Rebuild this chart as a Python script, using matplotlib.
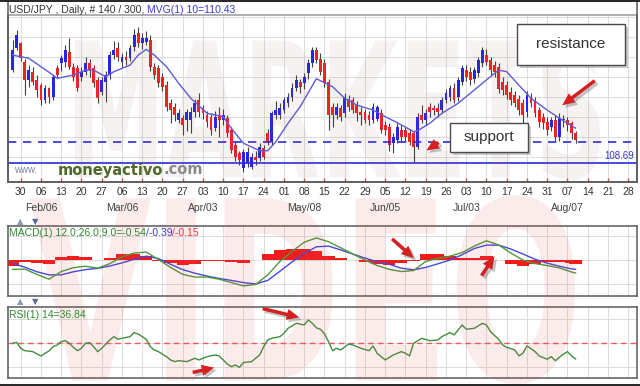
"""USD/JPY daily candles with MACD and RSI panels."""

import matplotlib

matplotlib.use("Agg")
import matplotlib.pyplot as plt
import numpy as np
from matplotlib.font_manager import FontProperties
from matplotlib.patches import FancyArrowPatch, PathPatch, Rectangle
from matplotlib.textpath import TextPath
from matplotlib.transforms import Affine2D, blended_transform_factory

W, H = 640, 386

# session index 0 = Thu 26 Jan 2006, 140 sessions
opens = [
    113.34, 114.42, 114.67, 113.75, 112.84, 113.25, 112.84, 112.59, 111.84, 112.42,
    112.00, 113.42, 113.67, 113.75, 114.25, 113.50, 113.42, 113.00, 113.25, 113.67,
    113.42, 112.84, 112.25, 112.75, 113.10, 114.08, 114.42, 113.75, 114.00, 113.92,
    114.50, 115.17, 114.67, 114.75, 114.84, 113.50, 113.42, 113.00, 112.59, 111.67,
    111.50, 110.84, 110.92, 110.84, 110.84, 111.25, 111.84, 111.42, 111.08, 111.00,
    110.42, 111.08, 110.84, 110.92, 110.34, 109.59, 109.17, 108.42, 108.67, 108.50,
    109.00, 108.92, 109.42, 110.17, 109.75, 111.10, 111.10, 111.34, 111.67, 112.00,
    112.42, 112.75, 112.67, 113.17, 113.67, 114.34, 113.90, 113.67, 112.75, 111.50,
    111.08, 111.42, 111.17, 111.90, 111.84, 111.60, 111.25, 111.25, 111.08, 110.84,
    110.90, 111.17, 110.60, 110.50, 109.67, 109.84, 110.34, 110.34, 110.17, 110.17,
    109.50, 111.08, 110.84, 111.50, 111.42, 111.42, 111.34, 111.84, 112.00, 112.42,
    112.00, 112.75, 113.34, 113.25, 112.90, 113.17, 113.67, 114.10, 113.84, 113.60,
    113.50, 112.75, 112.59, 112.25, 112.10, 111.90, 111.67, 111.25, 112.00, 111.84,
    111.34, 111.00, 110.75, 110.50, 110.84, 110.00, 110.84, 110.84, 110.67, 110.17,
]
highs = [
    114.84, 115.34, 114.75, 113.90, 113.60, 113.50, 113.10, 112.70, 112.60, 112.50,
    113.10, 113.60, 114.10, 114.60, 114.92, 113.70, 113.60, 113.50, 114.00, 113.90,
    113.60, 113.00, 113.00, 113.30, 114.30, 114.80, 114.75, 114.20, 114.30, 114.60,
    115.40, 115.47, 115.20, 115.30, 115.10, 113.70, 113.60, 113.20, 112.80, 111.90,
    111.70, 111.40, 111.10, 111.40, 111.50, 111.90, 112.20, 111.60, 111.30, 111.20,
    111.30, 111.50, 111.40, 111.10, 110.50, 109.80, 109.30, 109.40, 109.50, 109.20,
    109.30, 109.70, 109.60, 110.40, 111.30, 111.80, 111.70, 112.00, 112.20, 112.70,
    113.10, 112.90, 113.20, 113.90, 114.50, 114.50, 114.20, 113.90, 112.90, 111.70,
    111.70, 111.60, 112.20, 112.10, 112.00, 111.80, 111.50, 111.40, 111.30, 111.70,
    111.60, 111.40, 110.80, 110.70, 110.20, 110.70, 110.60, 110.50, 110.40, 110.30,
    111.20, 111.60, 111.40, 111.70, 111.60, 111.70, 112.00, 112.40, 112.60, 112.70,
    113.00, 113.60, 113.60, 113.50, 113.50, 114.00, 114.50, 114.40, 114.00, 113.80,
    113.70, 113.00, 112.80, 112.50, 112.30, 112.10, 111.90, 112.30, 112.20, 112.00,
    111.50, 111.20, 111.00, 111.00, 111.10, 111.20, 111.10, 111.00, 110.80, 110.30,
]
lows = [
    113.25, 114.34, 113.80, 112.10, 112.50, 112.60, 112.00, 111.60, 111.70, 111.70,
    111.85, 113.00, 113.30, 113.50, 113.40, 112.80, 112.30, 112.80, 113.10, 113.00,
    112.50, 111.70, 112.10, 111.75, 112.90, 113.90, 113.80, 113.50, 113.60, 113.80,
    114.30, 114.50, 114.40, 114.60, 113.30, 112.90, 112.50, 112.30, 111.30, 110.67,
    110.80, 110.70, 110.10, 110.30, 110.20, 111.00, 111.00, 110.90, 110.50, 110.10,
    110.30, 110.00, 110.60, 110.00, 109.20, 108.80, 108.60, 108.25, 108.50, 108.40,
    108.60, 108.80, 108.90, 109.60, 109.60, 110.90, 110.90, 111.20, 111.50, 111.80,
    112.30, 112.20, 112.40, 112.90, 113.50, 113.70, 113.10, 112.50, 110.35, 110.50,
    110.90, 110.80, 111.00, 111.30, 111.20, 110.80, 110.60, 110.70, 110.60, 110.70,
    110.80, 110.20, 110.10, 109.30, 109.20, 109.70, 109.80, 109.80, 109.60, 108.75,
    109.40, 110.70, 110.60, 111.00, 111.10, 111.00, 111.20, 111.70, 111.80, 111.70,
    111.80, 112.60, 112.80, 112.60, 112.70, 113.00, 113.50, 113.60, 113.10, 113.00,
    112.20, 112.10, 111.90, 111.60, 111.50, 111.10, 110.60, 111.00, 111.50, 111.00,
    110.50, 110.40, 110.10, 110.30, 109.80, 109.80, 110.50, 110.30, 109.90, 109.70,
]
closes = [
    114.34, 115.08, 113.92, 112.84, 113.33, 112.75, 112.34, 111.84, 112.42, 112.00,
    113.00, 113.10, 113.92, 114.34, 113.50, 113.00, 112.42, 113.25, 113.67, 113.34,
    112.67, 111.92, 112.84, 113.10, 114.08, 114.34, 114.00, 114.00, 113.84, 114.42,
    115.08, 114.67, 114.92, 114.92, 113.50, 113.08, 112.67, 112.50, 111.50, 111.34,
    111.08, 111.17, 110.59, 111.25, 111.25, 111.67, 111.25, 111.17, 110.75, 110.34,
    111.00, 110.84, 111.08, 110.17, 109.34, 109.00, 108.84, 109.25, 109.25, 109.00,
    108.84, 109.50, 109.00, 109.75, 111.17, 111.34, 111.42, 111.84, 112.00, 112.42,
    112.84, 112.50, 113.00, 113.67, 114.34, 113.84, 113.25, 112.67, 111.08, 111.10,
    111.50, 111.00, 112.00, 111.50, 111.34, 111.17, 111.08, 110.84, 110.84, 111.50,
    111.50, 110.34, 110.34, 109.60, 110.00, 110.50, 110.00, 110.00, 109.75, 109.50,
    111.00, 110.84, 111.17, 111.25, 111.34, 111.25, 111.84, 112.17, 112.42, 111.84,
    112.84, 113.42, 113.00, 112.84, 113.34, 113.84, 114.34, 113.75, 113.34, 113.25,
    112.40, 112.34, 112.10, 111.84, 111.67, 111.34, 111.08, 112.10, 111.67, 111.17,
    110.75, 110.67, 110.34, 110.84, 110.00, 110.92, 110.90, 110.59, 110.17, 109.84,
]

# 10-day moving average
ma_days = [0, 4, 10, 11, 15, 18, 20, 23, 25, 29, 31, 33, 35, 38, 41, 44, 48, 52, 54, 57,
           61, 63, 65, 68, 71, 75, 79, 82, 85, 89, 92, 95, 99, 100, 103, 106, 110, 113,
           117, 120, 122, 125, 128, 132, 135, 139]
ma_vals = [114.08, 113.92, 113.08, 112.92, 113.08, 113.33, 113.33, 113.00, 113.25, 113.58,
           114.08, 114.37, 114.08, 113.50, 112.67, 111.92, 111.17, 111.00, 110.42, 109.67,
           109.30, 109.30, 109.75, 110.67, 111.50, 112.90, 112.50, 111.92, 111.58, 111.33,
           111.00, 110.70, 110.25, 110.30, 110.67, 111.17, 111.67, 112.17, 112.84, 113.33,
           113.25, 112.58, 111.92, 111.33, 110.92, 110.43]

macd_days = [0, 3, 6, 9, 12, 15, 18, 21, 24, 27, 30, 33, 36, 39, 42, 45, 48, 51, 54, 57,
             60, 63, 66, 69, 72, 75, 78, 81, 84, 87, 90, 93, 96, 99, 102, 105, 108, 111,
             114, 117, 120, 123, 126, 129, 132, 135, 138, 139]
macd_line = [-0.39, -0.38, -0.60, -0.80, -0.48, -0.32, -0.26, -0.34, -0.15, 0.13,
             0.29, 0.33, 0.02, -0.31, -0.60, -0.71, -0.71, -0.80, -0.94, -1.08,
             -1.02, -0.62, -0.06, 0.36, 0.74, 0.92, 0.76, 0.51, 0.25, 0.00,
             -0.23, -0.39, -0.48, -0.44, -0.06, 0.07, 0.16, 0.31, 0.58, 0.80,
             0.63, 0.29, 0.00, -0.15, -0.23, -0.33, -0.50, -0.54]
signal_line = [-0.14, -0.30, -0.49, -0.62, -0.62, -0.49, -0.40, -0.35, -0.25, -0.12,
               0.03, 0.16, 0.06, -0.18, -0.40, -0.55, -0.67, -0.77, -0.85, -0.94,
               -1.00, -0.85, -0.47, -0.08, 0.27, 0.55, 0.58, 0.42, 0.25, 0.08,
               -0.07, -0.18, -0.34, -0.41, -0.31, -0.16, 0.00, 0.22, 0.48, 0.62,
               0.62, 0.46, 0.25, 0.03, -0.13, -0.26, -0.37, -0.39]

rsi_days = [0, 1, 2, 3, 5, 6, 7, 8, 9, 10, 11, 12, 13, 14, 15, 16, 17, 18, 19, 20,
            21, 22, 24, 25, 26, 27, 29, 30, 31, 32, 33, 34, 35, 36, 38, 39, 40, 41, 43, 44,
            45, 46, 47, 48, 50, 51, 52, 53, 54, 55, 56, 57, 59, 60, 61, 62, 63, 64, 66, 67,
            68, 69, 70, 72, 73, 74, 75, 76, 77, 78, 79, 80, 81, 83, 84, 86, 88, 89, 90, 92,
            94, 96, 97, 98, 99, 101, 103, 105, 106, 108, 109, 110, 111, 112, 114, 116, 117,
            118, 120, 121, 122, 124, 125, 126, 127, 129, 130, 132, 133, 134, 136, 137, 138,
            139]
rsi_vals = [50, 50.8, 45.8, 43.8, 43.0, 41.0, 39.4, 41.6, 43.6, 47.2,
            48.6, 51.4, 52.2, 50, 46.6, 43.8, 45.8, 50, 50.6, 47.2,
            43, 45.8, 52.8, 55.6, 53.4, 54.2, 55.6, 59, 57.8, 55.6,
            53.4, 47.2, 44.4, 43, 38.8, 36, 34.6, 35.4, 34.6, 36,
            37.4, 36, 37.4, 38.8, 40.2, 39.4, 36, 32.6, 30.4, 31.8,
            29.8, 33.8, 34.6, 37.4, 40.2, 47.2, 52.8, 54.2, 55.6, 58.4,
            62.6, 64.6, 66.8, 65.4, 69.6, 66.8, 63.0, 61.8, 58, 51.4,
            43.8, 45.8, 44.4, 49.4, 48.6, 45.8, 43.8, 47.8, 41.6, 36,
            40.2, 43, 41.6, 39.4, 50, 54.2, 52.2, 52.8, 55.6, 59,
            57, 61.2, 65.4, 61.8, 62.6, 66.8, 65.4, 59.8, 53.4, 48.6,
            46.6, 44.4, 39.4, 41.6, 47.8, 43, 39.4, 36.6, 38.8, 35.4,
            41, 43, 39.4, 36.84]

week_labels = ["30", "06", "13", "20", "27", "06", "13", "20", "27", "03", "10", "17",
               "24", "01", "08", "15", "22", "29", "05", "12", "19", "26", "03", "10",
               "17", "24", "31", "07", "14", "21", "28"]
month_labels = ["Feb/06", "Mar/06", "Apr/03", "May/08", "Jun/05", "Jul/03", "Aug/07"]
month_weeks = [1, 5, 9, 14, 18, 22, 27]

support_level = 109.75
low_level = 108.69

plt.rcParams["font.family"] = ["Liberation Sans", "DejaVu Sans"]

fig = plt.figure(figsize=(6.4, 3.86), dpi=100)
fig.patch.set_facecolor("white")


def fx(x):
    return x / W


def fy(y):
    return 1 - y / H


def box(x0, y0, x1, y1):
    return [x0 / W, 1 - y1 / H, (x1 - x0) / W, (y1 - y0) / H]


week_pos = [2 + 5 * k for k in range(len(week_labels))]
XLIM = (-1.14, 154.17)
GRID = "#dcdcdc"
FRAME = "#5a5a5a"


def style_panel(ax, labels=False):
    ax.set_xlim(*XLIM)
    ax.set_xticks(week_pos)
    if labels:
        ax.set_xticklabels(week_labels)
        ax.tick_params(axis="x", direction="in", length=3, width=1, color="#e04848",
                       labelsize=7.5, labelcolor="#333333", pad=3.5)
    else:
        ax.tick_params(axis="x", bottom=False, labelbottom=False)
    ax.tick_params(axis="y", left=False, labelleft=False)
    ax.grid(True, color=GRID, lw=0.7)
    ax.set_axisbelow(True)
    for s in ax.spines.values():
        s.set_color(FRAME)
        s.set_linewidth(1.1)


# ---- price panel
ax = fig.add_axes(box(8, 15, 637, 182))
style_panel(ax, labels=True)
ax.set_ylim(107.735, 116.085)
ax.set_yticks(np.arange(109, 117))
ax.spines["top"].set_color("#9a9a9a")

days = np.arange(len(closes))
o = np.array(opens)
c = np.array(closes)
body_col = np.where(c >= o, "#2626e0", "#f02222")
ax.vlines(days, lows, highs, color="#404040", lw=0.8, zorder=2)
ax.bar(days, np.maximum(np.abs(c - o), 0.05), bottom=np.minimum(o, c), width=0.7,
       color=body_col, lw=0, zorder=3)
ax.plot(ma_days, ma_vals, color="#5c5cd8", lw=1.0, zorder=4)
ax.axhline(support_level, color="#2b2bd8", lw=1.2, ls=(0, (5, 4)), zorder=4)
ax.axhline(low_level, color="#2b2bd8", lw=1.2, zorder=4)
ax.annotate(f"{low_level:.2f}", xy=(1, low_level),
            xycoords=blended_transform_factory(ax.transAxes, ax.transData),
            xytext=(-2, 1.5), textcoords="offset points", ha="right", va="bottom",
            fontsize=7, color="#3a3ad0")

for k, lab in zip(month_weeks, month_labels):
    x_pix = 8 + (week_pos[k] - XLIM[0]) / (XLIM[1] - XLIM[0]) * 629
    fig.text(fx(x_pix), fy(208), lab, ha="center", va="center", fontsize=7.5, color="#404040")

# outer frame of the price panel (title sits inside it)
fig.add_artist(Rectangle((fx(8), fy(182)), 629 / W, 181 / H, transform=fig.transFigure,
                         fill=False, ec=FRAME, lw=1.1, zorder=2))

# ---- MACD panel
axm = fig.add_axes(box(8, 226, 637, 296))
style_panel(axm)
axm.set_ylim(-1.5, 1.4167)
axm.set_yticks([-1, 0, 1])
hist = np.array(macd_line) - np.array(signal_line)
axm.bar(macd_days, hist, width=3.0, color="#f01c1c", lw=0, zorder=2)
axm.plot(macd_days, signal_line, color="#4646dc", lw=1.0, zorder=3)
axm.plot(macd_days, macd_line, color="#4c9a3c", lw=1.0, zorder=3)

# ---- RSI panel
axr = fig.add_axes(box(8, 307, 637, 378))
style_panel(axr)
axr.set_ylim(20.84, 80.5)
axr.set_yticks([30, 50, 70])
axr.axhline(50, color="#f05a5a", lw=1.0, ls=(0, (4, 3)), zorder=2)
axr.plot(rsi_days, rsi_vals, color="#3f8f3f", lw=1.0, zorder=3)

# ---- texts made of several coloured parts
renderer = fig.canvas.get_renderer()


def chain(x, y, parts, size=7.5, gap=0.0):
    for s, col in parts:
        t = fig.text(fx(x), fy(y), s, color=col, fontsize=size, ha="left", va="center")
        x += t.get_window_extent(renderer=renderer).width + gap


chain(9, 10, [("USD/JPY , Daily, # 140 / 300,", "#333333"),
              ("MVG(1) 10=110.43", "#3b3bd0")], gap=3)
chain(9, 233, [("MACD(1) 12.0;26.0;9.0=-0.54", "#2e8b2e"),
               ("/-0.39", "#3a3ad0"), ("/-0.15", "#ee3b3b")])
chain(9, 315, [("RSI(1) 14=36.84", "#2e8b2e")])

for yy in (221.7, 301.7):
    fig.text(fx(20), fy(yy), "\u25b2", ha="center", va="center", fontsize=6,
             color="#8797bf", family="DejaVu Sans")
    fig.text(fx(35), fy(yy), "\u25bc", ha="center", va="center", fontsize=6,
             color="#5a6a9e", family="DejaVu Sans")


# ---- watermarks
def watermark(text, x0, y0, x1, y1, color, alpha):
    tp = TextPath((0, 0), text, size=100,
                  prop=FontProperties(family="DejaVu Sans", weight="bold"))
    ext = tp.get_extents()
    tr = (Affine2D().translate(-ext.x0, -ext.y0)
          .scale((x1 - x0) / W / ext.width, (y1 - y0) / H / ext.height)
          .translate(fx(x0), fy(y1)) + fig.transFigure)
    fig.add_artist(PathPatch(tp, transform=tr, facecolor=color, edgecolor="none",
                             alpha=alpha, zorder=1))


watermark("MARKETS", 75, 38, 600, 180, "#905a5a", 0.08)
watermark("VIDEO", 30, 195, 575, 384, "#dc4c4c", 0.11)

chain(14, 170, [("www.", "#7f86a8")], size=7)
t = fig.text(fx(58), fy(170), "moneyactivo", color="#4f6a28", fontsize=10.5,
             fontweight="bold", family="DejaVu Sans", ha="left", va="center", zorder=4)
fig.text(fx(58) + t.get_window_extent(renderer=renderer).width / W, fy(170), ".com",
         color="#8a8a8a", fontsize=10.5, fontweight="bold", family="DejaVu Sans",
         ha="left", va="center", zorder=4)


# ---- annotation boxes and arrows
def label_box(x0, y0, x1, y1, text):
    w, h = (x1 - x0) / W, (y1 - y0) / H
    fig.add_artist(Rectangle((fx(x0 + 3), fy(y1 + 3)), w, h, transform=fig.transFigure,
                             facecolor="#8c8c8c", edgecolor="none", alpha=0.45, zorder=7))
    fig.add_artist(Rectangle((fx(x0), fy(y1)), w, h, transform=fig.transFigure,
                             facecolor="white", edgecolor="#4a4a4a", lw=1.0, zorder=8))
    fig.text(fx((x0 + x1) / 2), fy((y0 + y1) / 2), text, ha="center", va="center",
             fontsize=11, color="#333333", zorder=9)


def arrow(x0, y0, x1, y1):
    style = "simple,head_width=0.8,head_length=0.9,tail_width=0.25"
    for d, col, a, z in ((2.5, "#7a7a7a", 0.45, 5), (0, "#d42020", 1.0, 6)):
        fig.add_artist(FancyArrowPatch((fx(x0 + d), fy(y0 + d)), (fx(x1 + d), fy(y1 + d)),
                                       transform=fig.transFigure, arrowstyle=style,
                                       mutation_scale=10, color=col, alpha=a, lw=0,
                                       zorder=z))


label_box(517, 24, 625, 65, "resistance")
label_box(450, 123, 528, 152, "support")
arrow(597, 79, 560, 107)
arrow(441, 141, 424, 152)
arrow(390, 237, 416, 260)
arrow(480, 278, 496, 254)
arrow(260, 308, 302, 318)
arrow(190, 373, 217, 367)

# thin dark strips along the top and bottom edges of the screenshot
fig.add_artist(Rectangle((0, fy(1.5)), 1, 1.5 / H, transform=fig.transFigure,
                         facecolor="#2a2a2a", edgecolor="none", zorder=10))
fig.add_artist(Rectangle((0, 0), 1, 2.5 / H, transform=fig.transFigure,
                         facecolor="#2a2a2a", edgecolor="none", zorder=10))

fig.savefig("out.png", dpi=100, facecolor=fig.get_facecolor())
plt.close(fig)
